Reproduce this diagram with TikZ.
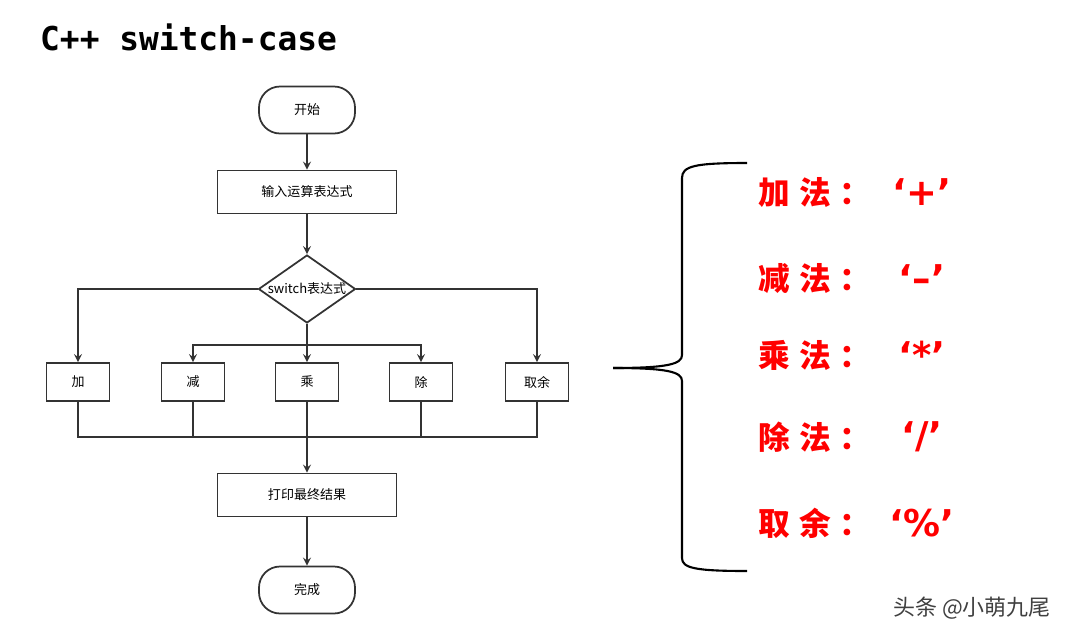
\documentclass[tikz,border=0pt]{standalone}
\usepackage{fontspec}
\setmainfont{Noto Sans CJK SC}
\newfontfamily\ttlfont{DejaVu Sans Mono}
\newfontfamily\symfont{DejaVu Sans}
\usetikzlibrary{shapes.geometric,positioning,calc}
\newcommand{\boxfont}{\fontsize{7.4}{9}\selectfont}
\newcommand{\opfont}{\fontsize{18}{20}\selectfont\bfseries}
\newcommand{\oplab}[2]{#1\hspace{0.2cm}#2\hspace{0.15cm}：}
\colorlet{colorLine}{black!80}
\colorlet{colorOp}{red}
\colorlet{colorMark}{black!75}
\tikzset{
   every path/.style={>=stealth},
   flow/.style={->,color=colorLine,line width=1pt},
   link/.style={-,color=colorLine,line width=1pt},
   term/.style={rectangle,rounded corners=0.42cm,draw=colorLine,line width=1pt,minimum width=1.92cm,minimum height=0.94cm,font=\boxfont},
   proc/.style={rectangle,draw=colorLine,line width=1pt,minimum width=3.58cm,minimum height=0.86cm,font=\boxfont},
   opbox/.style={rectangle,draw=colorLine,line width=1pt,minimum width=1.26cm,minimum height=0.76cm,font=\boxfont},
   dec/.style={diamond,draw=colorLine,line width=1pt,minimum width=1.94cm,minimum height=1.36cm,inner sep=0pt},
   brace/.style={-,color=black,line width=1.2pt},
   oplbl/.style={anchor=west,color=colorOp,font=\opfont,inner sep=0pt},
   opsym/.style={color=colorOp,font=\fontsize{21}{22}\symfont\bfseries,inner sep=0pt},
}
\begin{document}
\begin{tikzpicture}[x=0.02cm,y=-0.02cm]
      \useasboundingbox (0,0) rectangle (1092,643);
      \node[anchor=west,font=\fontsize{18.7}{20}\ttlfont\bfseries] (title) at (34,37) {C++ switch-case};
      % flowchart
      \node[term] (start) at (307,110) {开始};
      \node[proc] (inp) at (307,192) {输入运算表达式};
      \node[dec,label={[font=\boxfont]center:switch表达式}] (sw) at (307,289) {};
      \node[opbox] (add) at (78,382) {加};
      \node[opbox] (sub) at (193,382) {减};
      \node[opbox] (mul) at (307,382) {乘};
      \node[opbox] (dvd) at (421,382) {除};
      \node[opbox] (rem) at (537,382) {取余};
      \node[proc] (prt) at (307,495) {打印最终结果};
      \node[term] (fin) at (307,590) {完成};
      \coordinate (br) at (307,345);
      \coordinate (mg) at (307,437);
      \draw[flow] (start) -- (inp);
      \draw[flow] (inp) -- (sw);
      \draw[flow] (sw.west) -| (add.north);
      \draw[flow] (sw.east) -| (rem.north);
      \draw[flow] (sw.south) -- (mul.north);
      \draw[flow] (br) -| (sub.north);
      \draw[flow] (br) -| (dvd.north);
      \draw[link] (add.south) |- (mg);
      \draw[link] (sub.south) |- (mg);
      \draw[link] (dvd.south) |- (mg);
      \draw[link] (rem.south) |- (mg);
      \draw[flow] (mul.south) -- (prt.north);
      \draw[flow] (prt) -- (fin);
      % brace and operators
      \draw[brace] (747,163) .. controls (695,163) and (682,166) .. (682,178) -- (682,355)
            .. controls (682,364) and (668,368) .. (613,368);
      \draw[brace] (613,368) .. controls (668,368) and (682,372) .. (682,381) -- (682,558)
            .. controls (682,568) and (695,571) .. (747,571);
      \foreach \y/\a/\b/\s [count=\i] in {192/加/法/{‘+’}, 278/减/法/{‘–’}, 355/乘/法/{‘*’}, 437/除/法/{‘/’}, 523/取/余/{‘\%’}} {
         \node[oplbl] (lab\i) at (758,\y) {\oplab{\a}{\b}};
         \node[opsym] (sym\i) at (922,\y) {\s};
      }
      \node[color=colorMark,font=\fontsize{12.5}{14}\selectfont] (mark) at (972,608) {头条 @小萌九尾};
\end{tikzpicture}
\end{document}
